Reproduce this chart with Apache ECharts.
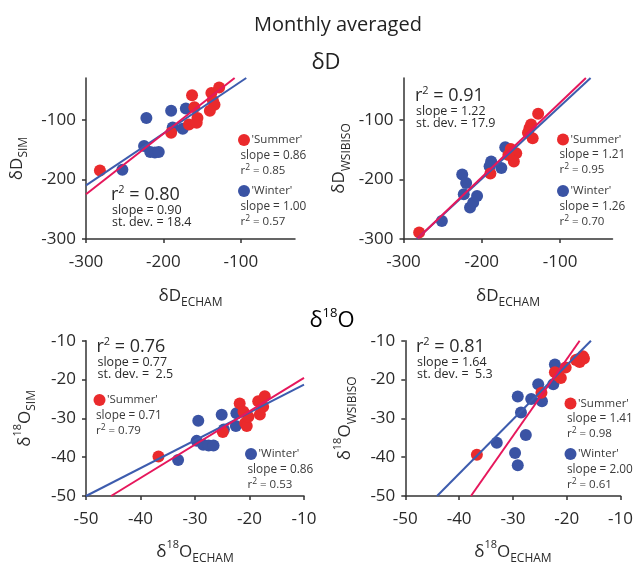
<!DOCTYPE html>
<html>
<head>
<meta charset="utf-8">
<script src="https://cdn.jsdelivr.net/npm/echarts@6.0.0/dist/echarts.min.js"></script>
<style>html,body{margin:0;padding:0;background:#fff}#c{width:636px;height:566px}</style>
</head>
<body>
<div id="c"></div>
<script>
// ---------- data ----------
const dDTicks = [-300, -200, -100];
const d18OTicks = [-50, -40, -30, -20, -10];

// Panel A: dD SIM vs dD ECHAM
const dDSimSummer = [[-282,-185],[-190,-122],[-163,-59],[-160,-79],[-167,-108],[-156,-97],[-157,-105],[-138,-55],[-128,-46],[-136,-68],[-134,-75],[-140,-85]];
const dDSimWinter = [[-253,-184],[-222,-97],[-225,-144],[-217,-154],[-211,-155],[-206,-154],[-190,-85],[-188,-113],[-171,-81],[-175,-115]];
const dDSimFitPink = [[-300,-225],[-108,-30]];
const dDSimFitBlue = [[-300,-210],[-93,-30]];

// Panel B: dD WSIBISO vs dD ECHAM
const dDWsiSummer = [[-280,-289],[-189,-190],[-163,-149],[-156,-156],[-159,-170],[-166,-159],[-139,-114],[-137,-108],[-141,-122],[-135,-131],[-128,-90]];
const dDWsiWinter = [[-251,-270],[-225,-192],[-220,-206],[-223,-225],[-215,-247],[-211,-239],[-206,-228],[-188,-170],[-190,-178],[-175,-181],[-170,-146]];
const dDWsiFitPink = [[-282,-299],[-67,-30]];
const dDWsiFitBlue = [[-283,-300],[-61,-30]];

// Panel C: d18O SIM vs d18O ECHAM
const oSimSummer = [[-36.7,-39.8],[-24.9,-33.5],[-21.8,-26.2],[-21.1,-28.3],[-20.8,-31.2],[-20.5,-32],[-18.4,-25.6],[-18.1,-29],[-17.2,-24.3],[-17.5,-27],[-20.2,-29.6]];
const oSimWinter = [[-33.1,-40.7],[-29.4,-30.6],[-29.7,-35.8],[-28.5,-36.8],[-27.5,-37],[-26.6,-37],[-25.1,-29.1],[-24.7,-32.9],[-22.4,-28.7],[-22.5,-32]];
const oSimFitPink = [[-45.4,-50],[-10,-19.6]];
const oSimFitBlue = [[-50,-50],[-10,-21.3]];

// Panel D: d18O WSIBISO vs d18O ECHAM
const oWsiSummer = [[-36.7,-39.4],[-24.7,-23.4],[-21.6,-19],[-21.1,-19.6],[-20.2,-16.9],[-22.2,-18.1],[-17.9,-14.8],[-17,-14],[-16.8,-14.6],[-17.6,-15.5],[-18.3,-15]];
const oWsiWinter = [[-33,-36.3],[-29.6,-38.9],[-29.1,-42.1],[-27.6,-34.3],[-28.5,-28.5],[-29.1,-24.4],[-26.6,-25],[-25.3,-21.2],[-24.6,-25.6],[-22.5,-21.2],[-22.2,-16.1]];
const oWsiFitPink = [[-37.8,-50],[-17.6,-10]];
const oWsiFitBlue = [[-44.1,-50],[-15.5,-10]];

// ---------- style ----------
const FF = 'Open Sans';
const RED = '#ea2a2c', BLUE = '#3a53a4', PINK = '#e6175c', LBLUE = '#3d5cae';
const TXT = '#2a2a2a';
const LTXT = '#3a3a3a';

const nameRich = {
  m: {fontFamily: FF, fontSize: 17, lineHeight: 26, color: TXT},
  sub: {fontFamily: FF, fontSize: 12, lineHeight: 12, verticalAlign: 'bottom', color: TXT},
  sup: {fontFamily: FF, fontSize: 11, lineHeight: 11, verticalAlign: 'top', color: TXT}
};

const grids = [
  {left: 86, top: 78, width: 209, height: 161},
  {left: 403.5, top: 78, width: 209, height: 161},
  {left: 86, top: 340.7, width: 218, height: 160.3},
  {left: 405.3, top: 340.7, width: 218, height: 160.3}
];

function xAx(i, min, max, interval, ticks, name, gap) {
  return {
    gridIndex: i, type: 'value', min, max, interval,
    axisLine: {show: true, onZero: false, lineStyle: {color: '#333', width: 1.5}},
    axisTick: {show: true, length: 4, customValues: ticks, lineStyle: {color: '#333', width: 1.5}},
    axisLabel: {customValues: ticks, fontFamily: FF, fontSize: 17, color: TXT, margin: 15},
    splitLine: {show: false},
    name, nameLocation: 'middle', nameGap: gap, nameTextStyle: {rich: nameRich}
  };
}
function yAx(i, min, max, interval, ticks, name, gap) {
  return {
    gridIndex: i, type: 'value', min, max, interval,
    axisLine: {show: true, onZero: false, lineStyle: {color: '#333', width: 1.5}},
    axisTick: {show: true, length: 4, customValues: ticks, lineStyle: {color: '#333', width: 1.5}},
    axisLabel: {customValues: ticks, fontFamily: FF, fontSize: 17, color: TXT, margin: 10},
    splitLine: {show: false},
    name, nameLocation: 'middle', nameGap: gap, nameRotate: 90, nameTextStyle: {rich: nameRich}
  };
}

function pts(i, data, color) {
  return {type: 'scatter', xAxisIndex: i, yAxisIndex: i, data, symbolSize: 12,
    itemStyle: {color, opacity: 1}, z: 2, silent: true};
}
function fit(i, data, color, z) {
  return {type: 'line', xAxisIndex: i, yAxisIndex: i, data, showSymbol: false, symbol: 'none',
    lineStyle: {color, width: 2}, z, silent: true, clip: true};
}

// ---------- annotations ----------
function txt(x, y, text, size, color, rich) {
  return {type: 'text', x, y, silent: true,
    style: {text, fontFamily: FF, fontSize: size, fill: color || TXT, verticalAlign: 'middle', rich}};
}
const bigRich = {
  a: {fontFamily: FF, fontSize: 18, lineHeight: 22, color: TXT},
  s: {fontFamily: FF, fontSize: 11, lineHeight: 11, verticalAlign: 'top', color: TXT}
};
const smRich = {
  a: {fontFamily: FF, fontSize: 11.5, lineHeight: 15, color: LTXT},
  s: {fontFamily: FF, fontSize: 8.5, lineHeight: 8.5, verticalAlign: 'top', color: LTXT}
};
function stats(x, y, r2, slope, sd) {
  return [
    txt(x, y, '{a|r}{s|2}{a| = ' + r2 + '}', 18, TXT, bigRich),
    txt(x + 1, y + 15, 'slope = ' + slope, 12.5),
    txt(x + 1, y + 27.5, 'st. dev. = ' + sd, 12.5)
  ];
}
function leg(x, y, color, label, slope, r2) {
  return [
    {type: 'circle', shape: {cx: x + 3.5, cy: y, r: 6}, style: {fill: color}, silent: true},
    txt(x + 11, y, label, 11.5, LTXT),
    txt(x, y + 15.5, 'slope = ' + slope, 11.8, LTXT),
    txt(x, y + 30.5, '{a|r}{s|2}{a| = ' + r2 + '}', 11.5, LTXT, smRich)
  ];
}

const graphics = [
  {type: 'text', x: 338, y: 25, silent: true, style: {text: 'Monthly averaged', fontFamily: FF, fontSize: 20, fill: '#222', align: 'center', verticalAlign: 'middle'}},
  {type: 'text', x: 326, y: 63, silent: true, style: {text: 'δD', fontFamily: FF, fontSize: 22, fill: '#222', align: 'center', verticalAlign: 'middle'}},
  {type: 'text', x: 332, y: 321, silent: true, style: {text: '{m|δ}{s|18}{m|O}', align: 'center', verticalAlign: 'middle',
    rich: {m: {fontFamily: FF, fontSize: 22, lineHeight: 28, color: '#222'}, s: {fontFamily: FF, fontSize: 13, lineHeight: 14, verticalAlign: 'top', color: '#222'}}}},
  ...stats(111, 195, '0.80', '0.90', '18.4'),
  ...leg(240.5, 140, RED, "'Summer'", '0.86', '0.85'),
  ...leg(240.5, 191, BLUE, "'Winter'", '1.00', '0.57'),
  ...stats(415, 96, '0.91', '1.22', '17.9'),
  ...leg(559.5, 139.5, RED, "'Summer'", '1.21', '0.95'),
  ...leg(559.5, 191, BLUE, "'Winter'", '1.26', '0.70'),
  ...stats(96.5, 347, '0.76', '0.77', ' 2.5'),
  ...leg(96, 400, RED, "'Summer'", '0.71', '0.79'),
  ...leg(247.5, 454, BLUE, "'Winter'", '0.86', '0.53'),
  ...stats(416, 347, '0.81', '1.64', ' 5.3'),
  ...leg(567, 403.5, RED, "'Summer'", '1.41', '0.98'),
  ...leg(567, 454, BLUE, "'Winter'", '2.00', '0.61')
];

const chart = echarts.init(document.getElementById('c'), null, {renderer: 'canvas'});
chart.setOption({
  animation: false,
  backgroundColor: '#fff',
  textStyle: {fontFamily: FF},
  grid: grids,
  xAxis: [
    xAx(0, -300, -30, 100, dDTicks, '{m|δD}{sub|ECHAM}', 44),
    xAx(1, -300, -33, 100, dDTicks, '{m|δD}{sub|ECHAM}', 44),
    xAx(2, -50, -10, 10, d18OTicks, '{m|δ}{sup|18}{m|O}{sub|ECHAM}', 43),
    xAx(3, -50, -10, 10, d18OTicks, '{m|δ}{sup|18}{m|O}{sub|ECHAM}', 43)
  ],
  yAxis: [
    yAx(0, -300, -30, 100, dDTicks, '{m|δD}{sub|SIM}', 56),
    yAx(1, -300, -30, 100, dDTicks, '{m|δD}{sub|WSIBISO}', 51),
    yAx(2, -50, -10, 10, d18OTicks, '{m|δ}{sup|18}{m|O}{sub|SIM}', 48),
    yAx(3, -50, -10, 10, d18OTicks, '{m|δ}{sup|18}{m|O}{sub|WSIBISO}', 47)
  ],
  series: [
    pts(0, dDSimWinter, BLUE), pts(0, dDSimSummer, RED), fit(0, dDSimFitBlue, LBLUE, 5), fit(0, dDSimFitPink, PINK, 6),
    pts(1, dDWsiWinter, BLUE), pts(1, dDWsiSummer, RED), fit(1, dDWsiFitBlue, LBLUE, 5), fit(1, dDWsiFitPink, PINK, 6),
    pts(2, oSimWinter, BLUE), pts(2, oSimSummer, RED), fit(2, oSimFitBlue, LBLUE, 5), fit(2, oSimFitPink, PINK, 6),
    pts(3, oWsiWinter, BLUE), pts(3, oWsiSummer, RED), fit(3, oWsiFitBlue, LBLUE, 5), fit(3, oWsiFitPink, PINK, 6)
  ],
  graphic: graphics
});
</script>
</body>
</html>
